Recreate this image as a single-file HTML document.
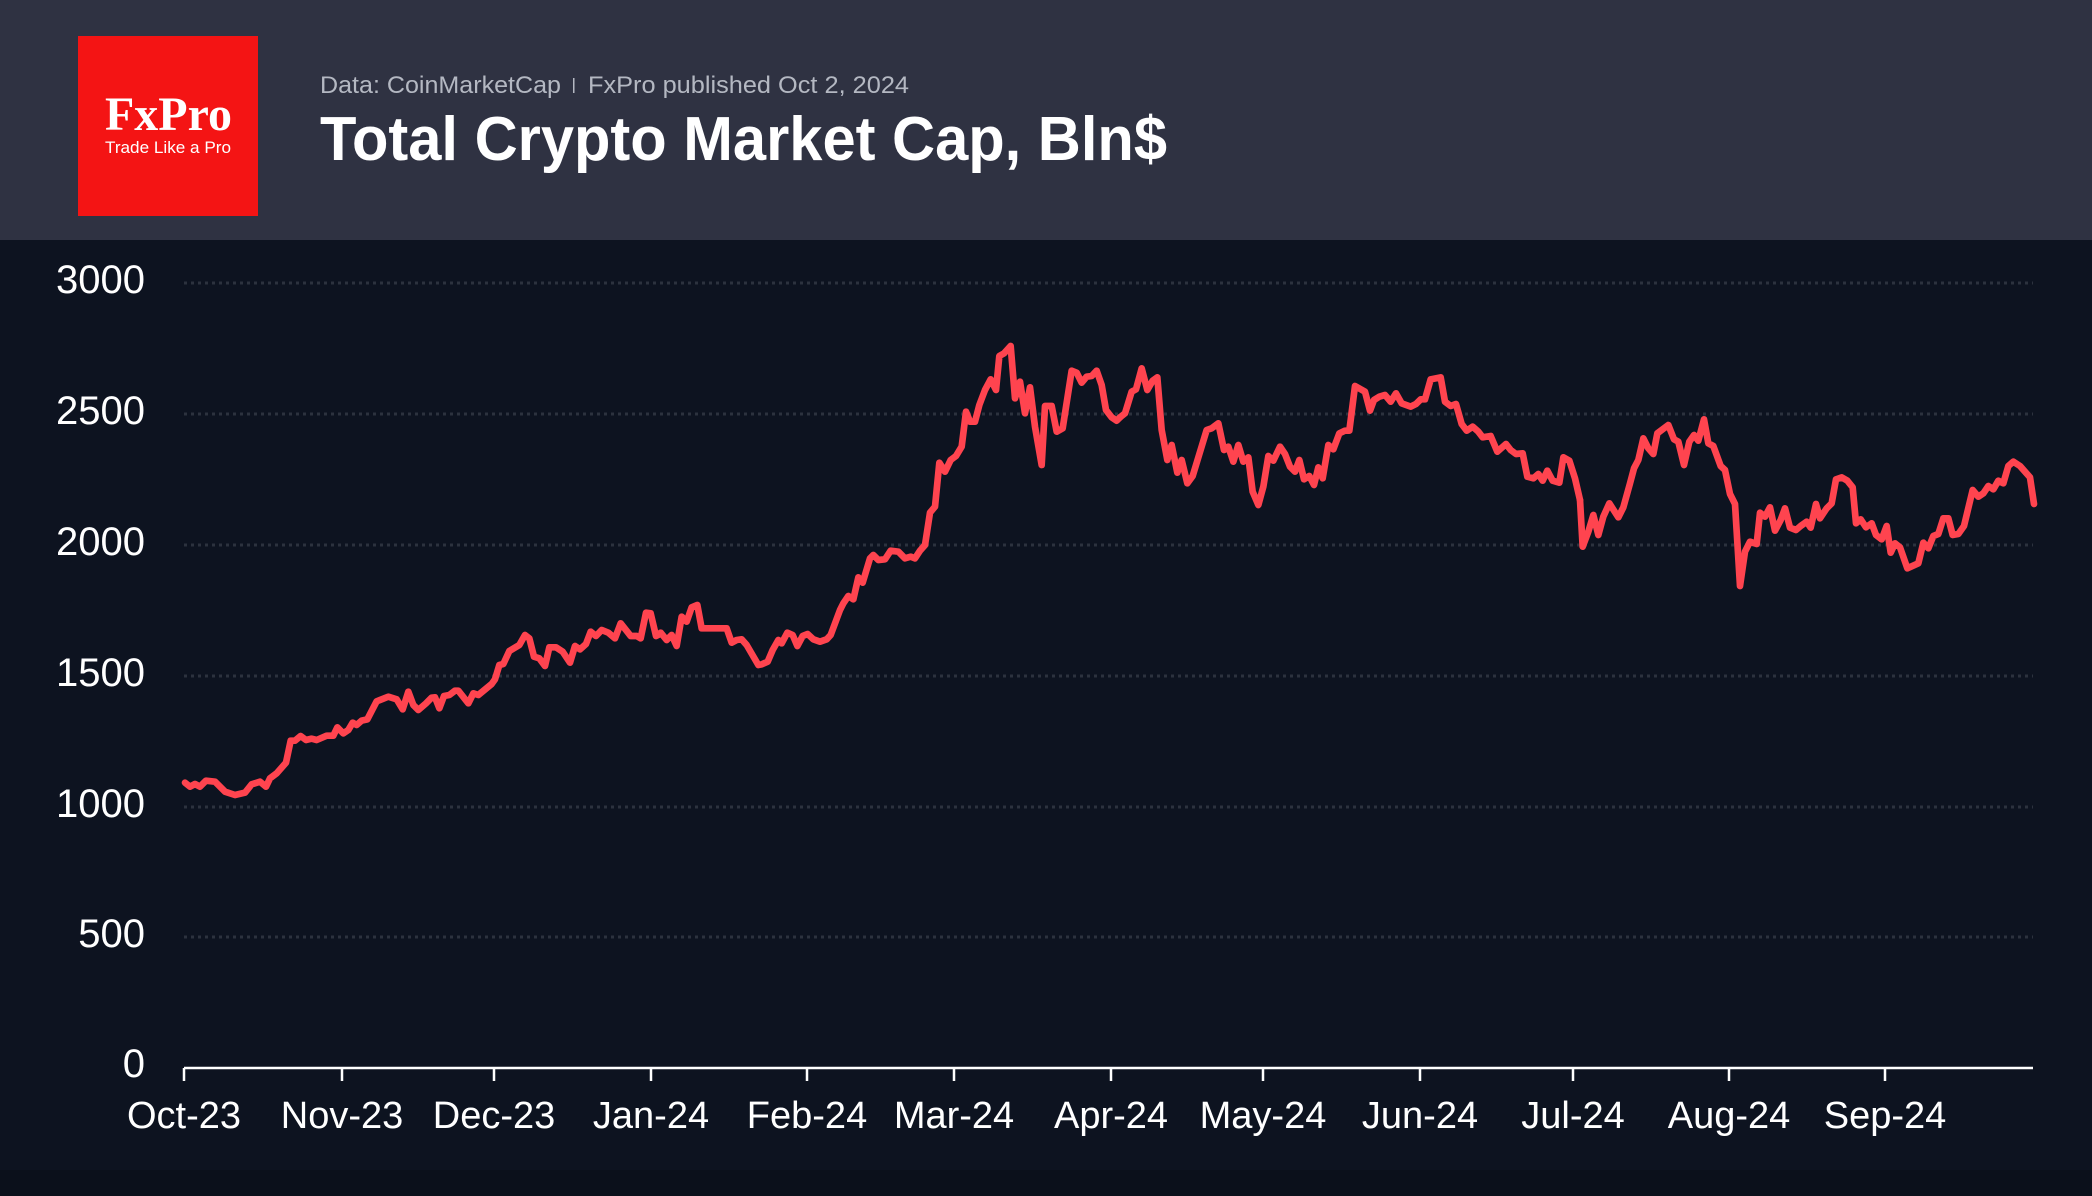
<!DOCTYPE html>
<html><head><meta charset="utf-8"><style>
html,body{margin:0;padding:0;background:#0d1320;}
svg{display:block}
</style></head><body>
<svg width="2092" height="1196" viewBox="0 0 2092 1196" xmlns="http://www.w3.org/2000/svg">
<rect x="0" y="0" width="2092" height="1196" fill="#0b101b"/>
<rect x="0" y="240" width="2092" height="930" fill="#0d1320"/>
<rect x="0" y="0" width="2092" height="240" fill="#2f3242"/>
<rect x="78" y="36" width="180" height="180" fill="#f41414"/>
<text x="105" y="130" font-family="Liberation Serif, serif" font-size="48" font-weight="bold" fill="#fff" textLength="127" lengthAdjust="spacingAndGlyphs">FxPro</text>
<text x="105" y="153" font-family="Liberation Sans, sans-serif" font-size="17" fill="#fff" textLength="126" lengthAdjust="spacingAndGlyphs">Trade Like a Pro</text>
<text x="320" y="93" font-family="Liberation Sans, sans-serif" font-size="24" fill="#b4b8c2" textLength="241" lengthAdjust="spacingAndGlyphs">Data: CoinMarketCap</text>
<rect x="573" y="78" width="1.5" height="15" fill="#b4b8c2"/>
<text x="588" y="93" font-family="Liberation Sans, sans-serif" font-size="24" fill="#b4b8c2" textLength="321" lengthAdjust="spacingAndGlyphs">FxPro published Oct 2, 2024</text>
<text x="320" y="160" font-family="Liberation Sans, sans-serif" font-size="62" font-weight="bold" fill="#fff" textLength="847" lengthAdjust="spacingAndGlyphs">Total Crypto Market Cap, Bln$</text>
<g stroke="#2c323e" stroke-width="3" stroke-dasharray="3 4">
<line x1="184" y1="283" x2="2033" y2="283"/>
<line x1="184" y1="414" x2="2033" y2="414"/>
<line x1="184" y1="545" x2="2033" y2="545"/>
<line x1="184" y1="676" x2="2033" y2="676"/>
<line x1="184" y1="807" x2="2033" y2="807"/>
<line x1="184" y1="937" x2="2033" y2="937"/>
</g>
<g font-family="Liberation Sans, sans-serif" font-size="40" fill="#fff" text-anchor="end">
<text x="145" y="293">3000</text>
<text x="145" y="424">2500</text>
<text x="145" y="555">2000</text>
<text x="145" y="686">1500</text>
<text x="145" y="817">1000</text>
<text x="145" y="947">500</text>
<text x="145" y="1077">0</text>
</g>
<g stroke="#fff" stroke-width="2.5">
<line x1="184" y1="1068" x2="2033" y2="1068"/>
<line x1="184" y1="1068" x2="184" y2="1081"/>
<line x1="342" y1="1068" x2="342" y2="1081"/>
<line x1="494" y1="1068" x2="494" y2="1081"/>
<line x1="651" y1="1068" x2="651" y2="1081"/>
<line x1="807" y1="1068" x2="807" y2="1081"/>
<line x1="954" y1="1068" x2="954" y2="1081"/>
<line x1="1111" y1="1068" x2="1111" y2="1081"/>
<line x1="1263" y1="1068" x2="1263" y2="1081"/>
<line x1="1420" y1="1068" x2="1420" y2="1081"/>
<line x1="1573" y1="1068" x2="1573" y2="1081"/>
<line x1="1729" y1="1068" x2="1729" y2="1081"/>
<line x1="1885" y1="1068" x2="1885" y2="1081"/>
</g>
<g font-family="Liberation Sans, sans-serif" font-size="38" fill="#fff" text-anchor="middle">
<text x="184" y="1128">Oct-23</text>
<text x="342" y="1128">Nov-23</text>
<text x="494" y="1128">Dec-23</text>
<text x="651" y="1128">Jan-24</text>
<text x="807" y="1128">Feb-24</text>
<text x="954" y="1128">Mar-24</text>
<text x="1111" y="1128">Apr-24</text>
<text x="1263" y="1128">May-24</text>
<text x="1420" y="1128">Jun-24</text>
<text x="1573" y="1128">Jul-24</text>
<text x="1729" y="1128">Aug-24</text>
<text x="1885" y="1128">Sep-24</text>
</g>
<g fill="none" stroke="#ff444f" stroke-width="20" stroke-linejoin="round" stroke-linecap="round">
<polyline transform="translate(180,540) scale(0.3333333)" points="15,728 30,740 45,732 60,740 78,722 105,725 135,755 165,765 195,758 215,733 240,725 258,740 270,715 290,700 318,668 332,602 345,602 362,588 378,600 395,596 410,600 440,587 460,587 472,562 490,580 505,570 518,548 530,555 545,542 562,538 590,484 600,480 625,470 650,478 668,508 685,455 700,495 715,510 738,490 755,473 765,472 778,505 792,468 808,465 825,452 835,452 865,490 880,460 895,465 935,432 945,418 958,375 970,372 988,333 1018,315 1035,285 1048,295 1062,350 1078,355 1095,378 1108,322 1128,322 1148,335 1170,368 1185,318 1200,328 1218,312 1232,275 1248,288 1265,270 1285,278 1305,295 1322,250 1352,288 1370,288 1382,295 1398,218 1412,220 1428,288 1440,282"/>
<polyline transform="translate(640,330) scale(0.3333333)" points="60,912 62,908 80,930 95,915 110,948 125,860 140,875 155,832 172,825 185,895 240,895 260,895 275,938 290,930 305,928 320,945 355,1005 365,1003 383,995 398,960 415,930 425,940 442,908 458,915 472,948 488,918 503,912 520,928 540,935 560,928 572,915 600,840 610,820 625,798 640,808 655,742 668,758 690,685 700,675 715,690 735,688 752,662 775,665 795,685 812,680 825,685 840,662 855,645 870,548 885,530 898,398 915,425 932,390 948,378 965,350 978,245 990,275 1005,275 1018,225 1035,180 1052,148 1068,180 1078,78 1092,70 1112,48 1125,205 1140,155 1155,250 1170,172 1185,290 1205,405 1215,228 1235,228 1250,305 1268,295 1295,122 1310,128 1325,158 1340,140 1355,138 1370,122 1385,165 1398,240 1415,262 1430,272 1440,262"/>
<polyline transform="translate(1100,350) scale(0.3333333)" points="60,202 75,190 95,125 108,118 125,55 142,120 158,92 172,82 185,240 202,330 215,285 232,368 245,330 262,400 278,378 320,240 335,235 355,220 372,300 385,290 400,335 415,285 430,335 445,322 458,425 475,465 490,410 505,318 520,332 540,290 555,312 570,350 585,365 598,330 612,388 628,378 642,405 655,352 668,385 685,285 700,298 718,250 735,242 748,242 765,108 795,125 810,182 822,150 838,140 855,135 872,155 888,130 905,160 932,170 948,162 962,148 975,148 992,88 1022,82 1035,155 1052,168 1068,162 1085,222 1100,242 1118,230 1135,245 1148,262 1172,258 1192,305 1218,282 1232,300 1248,312 1268,310 1282,380 1300,385 1315,372 1328,392 1342,362 1358,392 1378,398 1390,322 1408,332 1425,385 1440,450"/>
<polyline transform="translate(1560,400) scale(0.3333333)" points="60,300 68,440 85,395 100,345 115,405 130,350 148,310 175,352 190,322 210,250 222,205 235,180 250,115 265,145 280,162 292,100 325,75 342,118 355,125 372,195 388,125 402,105 415,122 432,58 445,130 460,138 482,198 495,210 510,282 525,312 540,558 555,455 570,425 590,432 600,338 615,350 630,322 645,392 662,360 675,325 690,383 708,390 722,378 740,365 752,383 768,312 780,355 800,325 815,310 828,238 845,232 862,242 878,262 888,370 902,358 918,382 935,370 948,405 965,418 980,378 992,458 1005,430 1020,442 1042,505 1075,490 1090,428 1105,445 1120,408 1135,402 1150,355 1165,355 1178,405 1195,402 1212,378 1238,270 1255,290 1270,280 1285,258 1300,268 1315,242 1330,250 1345,198 1360,185 1380,198 1410,232 1422,312"/>
</g>
</svg>
</body></html>
